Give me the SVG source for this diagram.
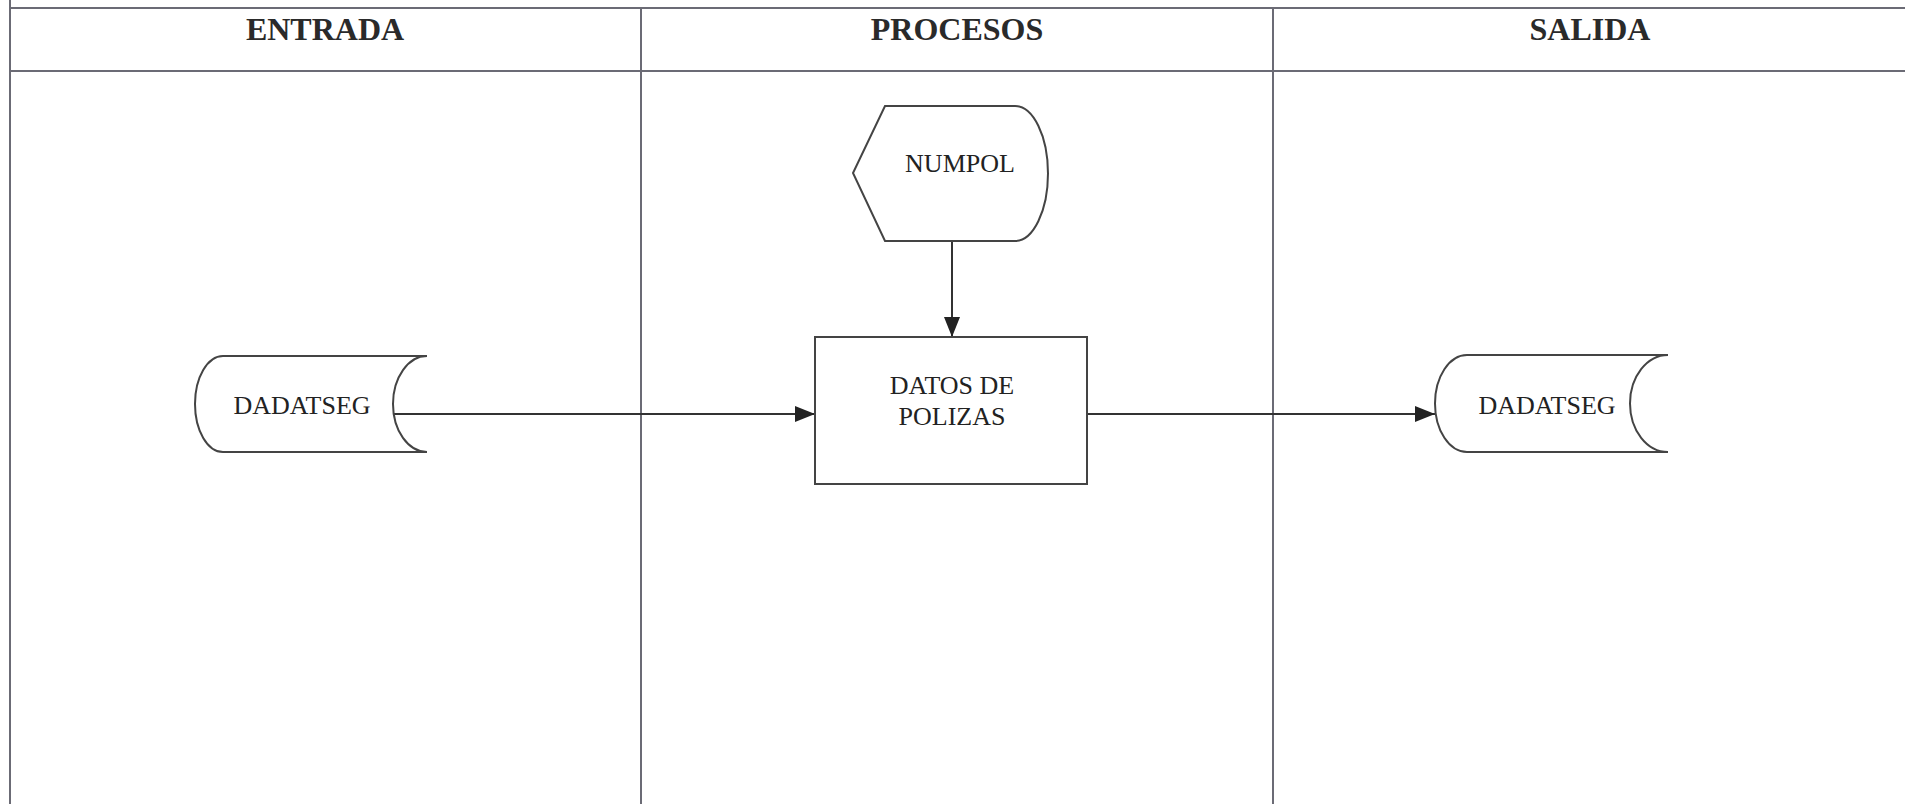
<svg xmlns="http://www.w3.org/2000/svg" width="1905" height="804" viewBox="0 0 1905 804">
<style>
.grid{stroke:#6b6b75;stroke-width:2;fill:none}
.hdr{font-family:"Liberation Serif",serif;font-weight:bold;font-size:32px;fill:#2a2a2a;text-anchor:middle}
.shape{fill:#fff;stroke:#444;stroke-width:2}
.lbl{font-family:"Liberation Serif",serif;font-size:26px;fill:#222;text-anchor:middle}
.conn{stroke:#333;stroke-width:2;fill:none}
</style>
<defs>
<marker id="arr" viewBox="0 0 20 16" refX="20" refY="8" markerWidth="20" markerHeight="16" markerUnits="userSpaceOnUse" orient="auto">
<path d="M0,0 L20,8 L0,16 Z" fill="#222"/>
</marker>
</defs>
<rect width="1905" height="804" fill="#fff"/>
<g id="lanes">
<line class="grid" x1="10" y1="0" x2="10" y2="804"/>
<line class="grid" x1="10" y1="8" x2="1905" y2="8"/>
<line class="grid" x1="10" y1="71" x2="1905" y2="71"/>
<line class="grid" x1="641" y1="8" x2="641" y2="804"/>
<line class="grid" x1="1273" y1="8" x2="1273" y2="804"/>
<text class="hdr" x="325" y="40">ENTRADA</text>
<text class="hdr" x="957" y="40">PROCESOS</text>
<text class="hdr" x="1590" y="40">SALIDA</text>
</g>
<g id="connectors">
<line class="conn" x1="393" y1="414" x2="815" y2="414" marker-end="url(#arr)"/>
<line class="conn" x1="952" y1="241" x2="952" y2="337" marker-end="url(#arr)"/>
<line class="conn" x1="1087" y1="414" x2="1435" y2="414" marker-end="url(#arr)"/>
</g>
<g id="dadatseg-in">
<path class="shape" d="M223,356 L427,356 A34,48 0 0 0 427,452 L223,452 A28,48 0 0 1 223,356 Z"/>
<text class="lbl" x="302" y="414">DADATSEG</text>
</g>
<g id="numpol">
<path class="shape" d="M885,106 L1015,106 A33,67.5 0 0 1 1015,241 L885,241 L853,173 Z"/>
<text class="lbl" x="960" y="172">NUMPOL</text>
</g>
<g id="datos-polizas">
<rect class="shape" x="815" y="337" width="272" height="147"/>
<text class="lbl" x="952" y="394">DATOS DE</text>
<text class="lbl" x="952" y="425">POLIZAS</text>
</g>
<g id="dadatseg-out">
<path class="shape" d="M1467,355 L1668,355 A38,48.5 0 0 0 1668,452 L1467,452 A32,48.5 0 0 1 1467,355 Z"/>
<text class="lbl" x="1547" y="414">DADATSEG</text>
</g>
</svg>
